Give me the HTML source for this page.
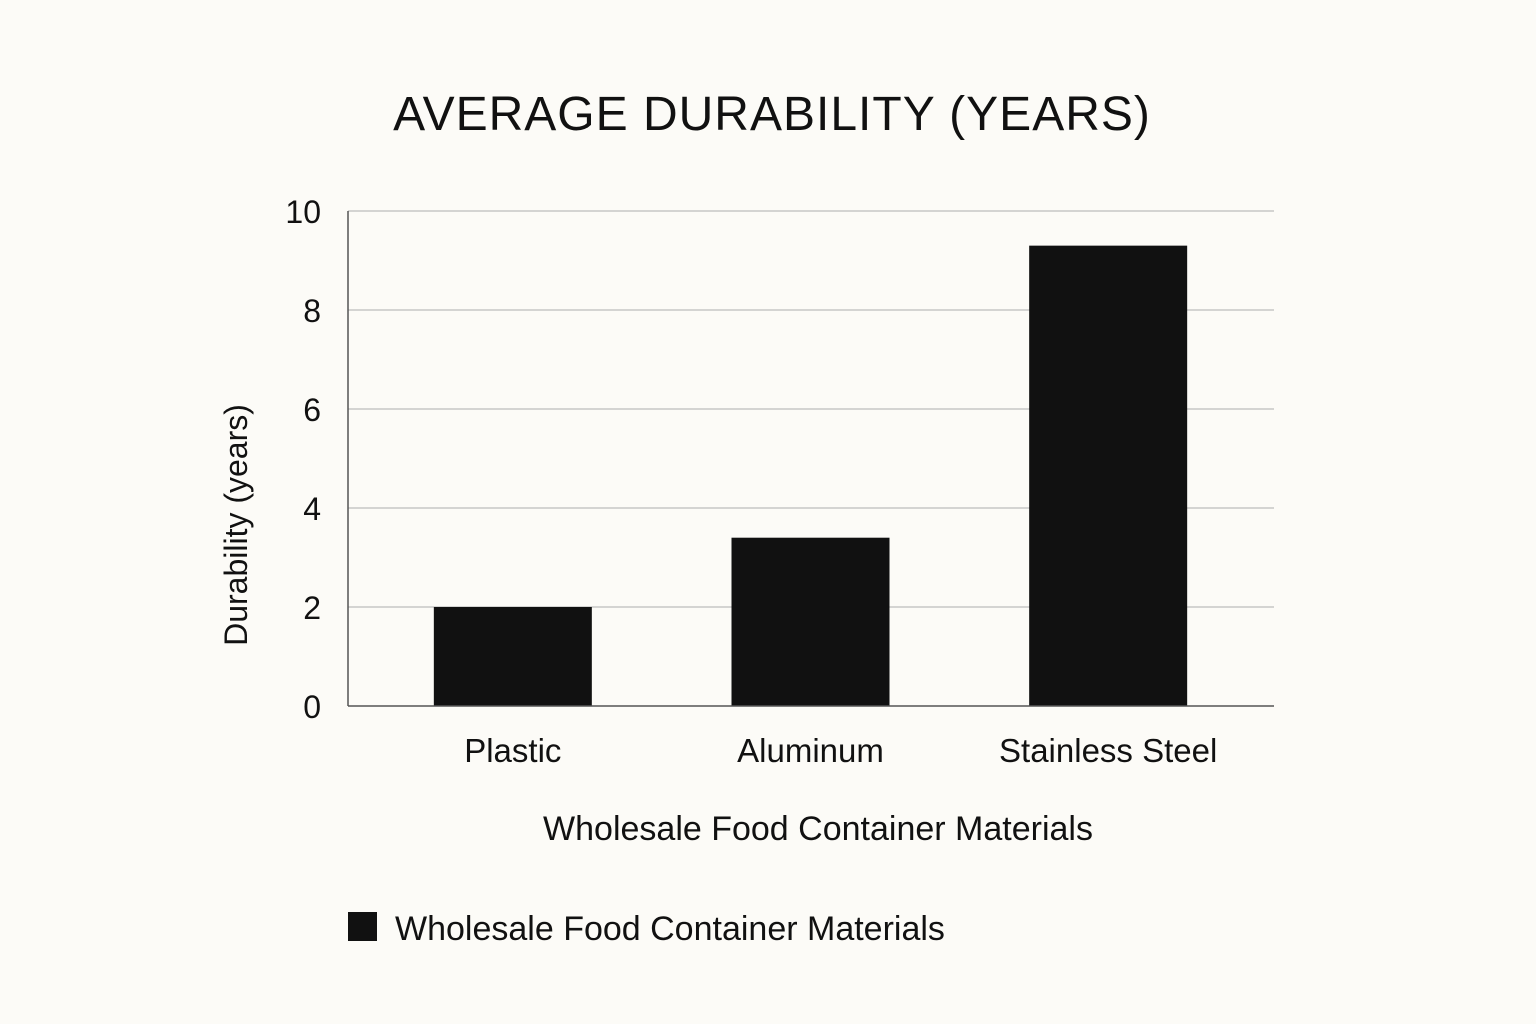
<!DOCTYPE html>
<html><head><meta charset="utf-8"><style>
html,body{margin:0;padding:0;background:#fcfbf7;}
svg{display:block;font-family:"Liberation Sans","DejaVu Sans",sans-serif;}
</style></head><body>
<svg id="chart" width="1536" height="1024" viewBox="0 0 1536 1024" xmlns="http://www.w3.org/2000/svg">
<rect width="1536" height="1024" fill="#fcfbf7"/>
<text x="772" y="130" text-anchor="middle" font-size="48" fill="#111" letter-spacing="1">AVERAGE DURABILITY (YEARS)</text>
<g id="grid"></g>
<g id="yticks"></g>
<g id="bars"></g>
<g id="xticks"></g>
<line x1="348" y1="211" x2="348" y2="706" stroke="#555" stroke-width="1.5"/>
<line x1="348" y1="706" x2="1274" y2="706" stroke="#555" stroke-width="1.5"/>
<text transform="translate(247,525) rotate(-90)" text-anchor="middle" font-size="32" fill="#111">Durability (years)</text>
<text x="818" y="840" text-anchor="middle" font-size="34" fill="#111">Wholesale Food Container Materials</text>
<g>
<rect x="348" y="912" width="29" height="29" fill="#111"/>
<text x="395" y="940" font-size="34" fill="#111">Wholesale Food Container Materials</text>
</g>
</svg>
<script>
const categories = ["Plastic", "Aluminum", "Stainless Steel"];
const values = [2.0, 3.4, 9.3];
const yTicks = [0, 2, 4, 6, 8, 10];

const NS = "http://www.w3.org/2000/svg";
const plotLeft = 348, plotRight = 1274, plotTop = 211, plotBottom = 706;
const yMax = 10;
function yScale(v){ return plotBottom - (v / yMax) * (plotBottom - plotTop); }
const rangeL = 364, rangeR = 1257;
function xCenter(i){ const step = (rangeR - rangeL) / categories.length; return rangeL + step * (i + 0.5); }
const barW = 158;

const grid = document.getElementById('grid');
const yt = document.getElementById('yticks');
yTicks.forEach(t => {
  const y = yScale(t);
  if (t !== 0) {
    const l = document.createElementNS(NS, 'line');
    
    
    l.setAttribute('x1', plotLeft); l.setAttribute('x2', plotRight);
    l.setAttribute('y1', y); l.setAttribute('y2', y);
    l.setAttribute('stroke', '#bdbdbd'); l.setAttribute('stroke-width', '1.2');
    grid.appendChild(l);
  }
  const tx = document.createElementNS(NS, 'text');
  
  
  tx.setAttribute('x', 321); tx.setAttribute('y', y + 12);
  tx.setAttribute('text-anchor', 'end'); tx.setAttribute('font-size', '32'); tx.setAttribute('fill', '#111');
  tx.textContent = t;
  yt.appendChild(tx);
});

const bars = document.getElementById('bars');
const xt = document.getElementById('xticks');
categories.forEach((c, i) => {
  const cx = xCenter(i);
  const r = document.createElementNS(NS, 'rect');
  
  
  r.setAttribute('x', cx - barW / 2); r.setAttribute('width', barW);
  r.setAttribute('y', yScale(values[i])); r.setAttribute('height', plotBottom - yScale(values[i]));
  r.setAttribute('fill', '#111');
  bars.appendChild(r);
  const tx = document.createElementNS(NS, 'text');
  
  
  tx.setAttribute('x', cx); tx.setAttribute('y', 762);
  tx.setAttribute('text-anchor', 'middle'); tx.setAttribute('font-size', '33'); tx.setAttribute('fill', '#111');
  tx.textContent = c;
  xt.appendChild(tx);
});
</script>
</body></html>
